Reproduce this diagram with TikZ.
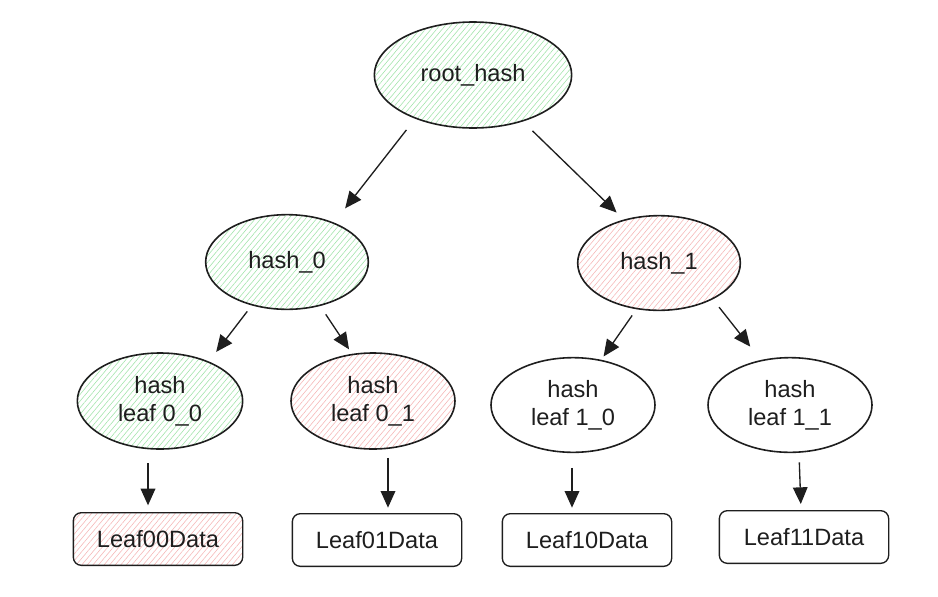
\documentclass[tikz,border=0pt]{standalone}
\usepackage{fontspec}
\setmainfont{Liberation Sans}
\usetikzlibrary{arrows.meta,shapes.geometric,patterns.meta}
\definecolor{ink}{HTML}{1E1E1E}
\definecolor{okgreen}{HTML}{A3E4AC}
\definecolor{badred}{HTML}{F5B8B8}

\begin{document}
\begin{tikzpicture}[x=0.75pt, y=-0.75pt,
    font=\fontsize{17.7}{21}\selectfont, text=ink,
    hashnode/.style={ellipse, draw=ink, line width=1.2pt, inner sep=0pt,
        minimum width=122pt, minimum height=71pt, align=center},
    databox/.style={rectangle, rounded corners=6pt, draw=ink, line width=1pt,
        minimum width=127pt, minimum height=39.5pt},
    good/.style={pattern={Lines[angle=50,distance=3.2pt,line width=0.45pt]}, pattern color=okgreen},
    bad/.style={pattern={Lines[angle=50,distance=3.2pt,line width=0.45pt]}, pattern color=badred},
    link/.style={draw=ink, line width=1pt, -{Triangle[length=12.5pt,width=11pt]}}]
    \useasboundingbox (0,0) rectangle (938,596);

    \node[hashnode, good, minimum width=148pt, minimum height=79.5pt] (root) at (473,75) {root\_hash};
    \node[hashnode, good] (h0) at (287,262) {hash\_0};
    \node[hashnode, bad] (h1) at (659,263) {hash\_1};

    \node[hashnode, good, minimum width=124pt, minimum height=72pt] (l00) at (160,401) {hash\\leaf 0\_0};
    \node[hashnode, bad, minimum width=123pt, minimum height=72pt] (l01) at (373,401) {hash\\leaf 0\_1};
    \node[hashnode, minimum width=123pt, minimum height=71pt] (l10) at (573,405) {hash\\leaf 1\_0};
    \node[hashnode, minimum width=123pt, minimum height=71pt] (l11) at (790,405) {hash\\leaf 1\_1};

    \node[databox, bad] (d00) at (158,539) {Leaf00Data};
    \node[databox] (d01) at (377,540) {Leaf01Data};
    \node[databox] (d10) at (587,540) {Leaf10Data};
    \node[databox] (d11) at (804,537) {Leaf11Data};

    \draw[link, shorten <=11pt, shorten >=13.5pt] (root.217) -- (h0.40);
    \draw[link, shorten <=10.5pt, shorten >=7.5pt] (root.-43) -- (h1.129);
    \draw[link, shorten <=5.6pt, shorten >=9pt] (h0.231) -- (l00.39);
    \draw[link, shorten <=7.5pt, shorten >=4pt] (h0.-53) -- (l01.114);
    \draw[link, shorten <=5.6pt, shorten >=3pt] (h1.244) -- (l10.58);
    \draw[link, shorten <=7.5pt, shorten >=12.75pt] (h1.-34) -- (l11.123);

    \draw[link, shorten <=10pt, shorten >=5pt] ([xshift=-9pt]l00.south) -- ([xshift=-7.5pt]d00.north);
    \draw[link, shorten <=6pt, shorten >=4pt] ([xshift=11.25pt]l01.south) -- ([xshift=8.25pt]d01.north);
    \draw[link, shorten <=11pt, shorten >=4pt] ([xshift=-0.75pt]l10.south) -- ([xshift=-11.25pt]d10.north);
    \draw[link, shorten <=7pt, shorten >=4.5pt] ([xshift=6.75pt]l11.south) -- ([xshift=-2.25pt]d11.north);
\end{tikzpicture}
\end{document}
